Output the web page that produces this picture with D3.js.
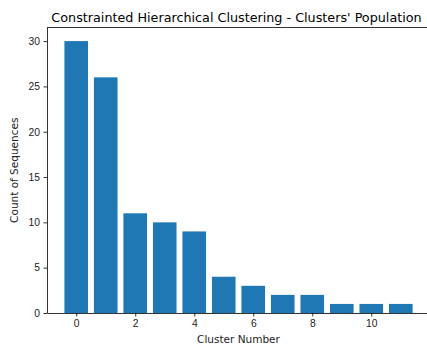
<!DOCTYPE html>
<html>
<head>
<meta charset="utf-8">
<script src="https://cdn.jsdelivr.net/npm/d3@7"></script>
<style>
  body { margin: 0; background: #fff; }
  svg { display: block; font-family: "DejaVu Sans", sans-serif; }
  .axis path, .axis line { stroke: #000; stroke-width: 0.8; }
  .axis text { fill: #222; font-size: 10.3px; }
</style>
</head>
<body>
<div class="bar-chart"></div>
<script>
(function() {
// cluster ids and how many sequences fell into each
const clusters = [0, 1, 2, 3, 4, 5, 6, 7, 8, 9, 10, 11];
const counts = [30, 26, 11, 10, 9, 4, 3, 2, 2, 1, 1, 1];
const xTicks = [0, 2, 4, 6, 8, 10];
const yTicks = [0, 5, 10, 15, 20, 25, 30];

var svg = d3.select(".bar-chart").append("svg")
    .attr("width", 427)
    .attr("height", 345),
    margin = {top: 27.5, right: -3, bottom: 32, left: 47},
    width = 427 - margin.left - margin.right,
    height = 345 - margin.top - margin.bottom;

const data = clusters.map((c, i) => ({ key: c, value: counts[i] }));

// matplotlib style padding: bars are 0.8 wide, 5% margins each side
var x = d3.scaleLinear().domain([-0.99, 11.99]).range([0, width]);
var y = d3.scaleLinear().domain([0, 31.5]).range([height, 0]);

var g = svg.append("g")
    .attr("transform", "translate(" + margin.left + "," + margin.top + ")");

g.selectAll(".bar")
    .data(data)
    .enter().append("rect")
    .attr("class", "bar")
    .attr("x", (d) => x(d.key - 0.4))
    .attr("width", (d) => x(d.key + 0.4) - x(d.key - 0.4))
    .attr("y", (d) => y(d.value))
    .attr("height", (d) => y(0) - y(d.value))
    .style("fill", "#1f77b4");

g.append("g")
    .attr("class", "axis axis--x")
    .attr("transform", "translate(0," + height + ")")
    .call(d3.axisBottom(x).tickValues(xTicks).tickSize(3.5).tickPadding(3.5).tickSizeOuter(0));

g.append("g")
    .attr("class", "axis axis--y")
    .call(d3.axisLeft(y).tickValues(yTicks).tickSize(3.5).tickPadding(3.5).tickSizeOuter(0));

// top spine (right one falls just outside the picture)
g.append("line")
    .attr("x1", 0).attr("x2", width)
    .attr("y1", 0).attr("y2", 0)
    .attr("stroke", "#000").attr("stroke-width", 0.8);

g.append("text")
    .attr("x", width / 2 - 2)
    .attr("y", -6)
    .attr("text-anchor", "middle")
    .style("font-size", "12.75px")
    .style("fill", "#000")
    .text("Constrainted Hierarchical Clustering - Clusters' Population");

g.append("text")
    .attr("x", x(5.5))
    .attr("y", height + 30)
    .attr("text-anchor", "middle")
    .style("font-size", "10.5px")
    .style("fill", "#222")
    .text("Cluster Number");

g.append("text")
    .attr("transform", "translate(-29," + (height / 2) + ") rotate(-90)")
    .attr("text-anchor", "middle")
    .style("font-size", "10.5px")
    .style("fill", "#222")
    .text("Count of Sequences");
}())
</script>
</body>
</html>
